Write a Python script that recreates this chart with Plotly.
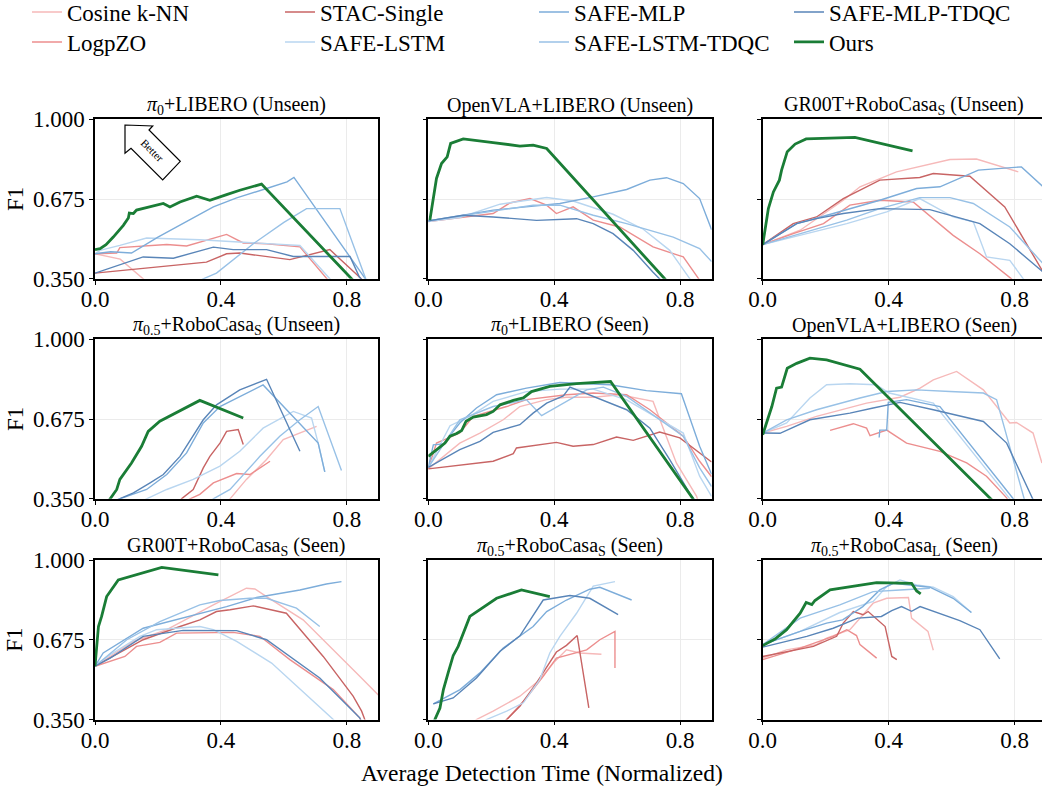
import plotly.graph_objects as go

# ---------------- data ----------------
METHODS = ["Cosine k-NN", "LogpZO", "STAC-Single", "SAFE-LSTM", "SAFE-MLP",
           "SAFE-LSTM-TDQC", "SAFE-MLP-TDQC", "Ours"]
COLORS = ["#f6b9b9", "#ec8e8e", "#c86464", "#b9d6f0", "#7dadda",
          "#98c1e6", "#5985b8", "#1a7d36"]
# legend slot of each method: (column, row) as in the reference legend
LEGEND_COL = [0, 0, 1, 1, 2, 2, 3, 3]
LEGEND_ROW = [0, 1, 0, 1, 0, 1, 0, 1]
PANEL_TITLES = [
    "<i>π</i><sub>0</sub>+LIBERO (Unseen)",
    "OpenVLA+LIBERO (Unseen)",
    "GR00T+RoboCasa<sub>S</sub> (Unseen)",
    "<i>π</i><sub>0.5</sub>+RoboCasa<sub>S</sub> (Unseen)",
    "<i>π</i><sub>0</sub>+LIBERO (Seen)",
    "OpenVLA+LIBERO (Seen)",
    "GR00T+RoboCasa<sub>S</sub> (Seen)",
    "<i>π</i><sub>0.5</sub>+RoboCasa<sub>S</sub> (Seen)",
    "<i>π</i><sub>0.5</sub>+RoboCasa<sub>L</sub> (Seen)",
]
X_TICKS = [0.0, 0.4, 0.8]
X_TICK_TEXT = ["0.0", "0.4", "0.8"]
Y_TICKS = [0.35, 0.675, 1.0]
Y_TICK_TEXT = ["0.350", "0.675", "1.000"]
X_LABEL = "Average Detection Time (Normalized)"
Y_LABEL = "F1"

# Panel 1: pi0 + LIBERO (Unseen)
p1_cosine = [(0, 0.452), (0.08, 0.43), (0.153, 0.35), (0.17, 0.33)]
p1_logpzo = [(0, 0.452), (0.069, 0.455), (0.079, 0.477), (0.228, 0.49), (0.291, 0.484), (0.418, 0.531),
             (0.471, 0.496), (0.545, 0.493), (0.651, 0.48), (0.735, 0.35), (0.75, 0.33)]
p1_stac = [(0, 0.373), (0.354, 0.418), (0.418, 0.452), (0.46, 0.455), (0.619, 0.428), (0.746, 0.469),
           (0.84, 0.357), (0.86, 0.33)]
p1_lstm = [(0, 0.452), (0.016, 0.466), (0.079, 0.486), (0.164, 0.516), (0.333, 0.509), (0.545, 0.493),
           (0.651, 0.486), (0.746, 0.35), (0.76, 0.33)]
p1_mlp = [(0, 0.452), (0.05, 0.46), (0.116, 0.455), (0.2, 0.52), (0.376, 0.643), (0.45, 0.68),
          (0.55, 0.72), (0.61, 0.745), (0.632, 0.763), (0.86, 0.35), (0.87, 0.33)]
p1_lstm_tdqc = [(0.33, 0.34), (0.344, 0.35), (0.386, 0.373), (0.503, 0.493), (0.6, 0.58), (0.672, 0.636),
                (0.778, 0.636), (0.86, 0.35), (0.87, 0.33)]
p1_mlp_tdqc = [(0, 0.373), (0.069, 0.404), (0.153, 0.439), (0.249, 0.434), (0.376, 0.479), (0.439, 0.469),
               (0.545, 0.469), (0.63, 0.441), (0.81, 0.441), (0.84, 0.357), (0.86, 0.33)]
p1_ours = [(0, 0.469), (0.016, 0.473), (0.035, 0.489), (0.058, 0.52), (0.09, 0.568), (0.106, 0.598),
           (0.109, 0.618), (0.122, 0.616), (0.132, 0.63), (0.175, 0.643), (0.206, 0.654), (0.217, 0.657),
           (0.238, 0.643), (0.27, 0.663), (0.323, 0.687), (0.365, 0.67), (0.418, 0.693), (0.46, 0.711),
           (0.529, 0.736), (0.815, 0.35), (0.83, 0.33)]

# Panel 2: OpenVLA + LIBERO (Unseen)
p2_logpzo = [(0, 0.583), (0.206, 0.616), (0.259, 0.659), (0.323, 0.677), (0.376, 0.65), (0.407, 0.616),
             (0.46, 0.643), (0.524, 0.589), (0.608, 0.561), (0.714, 0.48), (0.81, 0.439), (0.841, 0.384),
             (0.86, 0.35), (0.87, 0.33)]
p2_lstm = [(0, 0.583), (0.1, 0.6), (0.228, 0.654), (0.376, 0.681), (0.46, 0.667), (0.587, 0.613),
           (0.683, 0.552), (0.767, 0.466), (0.831, 0.35), (0.84, 0.33)]
p2_mlp = [(0, 0.586), (0.206, 0.63), (0.418, 0.657), (0.471, 0.67), (0.524, 0.684), (0.63, 0.714),
          (0.704, 0.752), (0.757, 0.762), (0.81, 0.738), (0.862, 0.677), (0.9, 0.55)]
p2_lstm_tdqc = [(0, 0.586), (0.206, 0.627), (0.333, 0.65), (0.418, 0.65), (0.524, 0.609), (0.63, 0.575),
                (0.778, 0.52), (0.862, 0.473), (0.9, 0.42)]
p2_mlp_tdqc = [(0, 0.586), (0.111, 0.609), (0.206, 0.602), (0.28, 0.595), (0.344, 0.588), (0.471, 0.595),
               (0.524, 0.575), (0.587, 0.534), (0.651, 0.466), (0.714, 0.377), (0.735, 0.35), (0.75, 0.33)]
p2_ours = [(0.005, 0.589), (0.014, 0.67), (0.026, 0.759), (0.042, 0.82), (0.06, 0.847), (0.071, 0.902),
           (0.111, 0.92), (0.206, 0.905), (0.291, 0.891), (0.333, 0.895), (0.376, 0.881), (0.751, 0.35),
           (0.765, 0.33)]

# Panel 3: GR00T + RoboCasa_S (Unseen)
p3_cosine = [(0, 0.489), (0.119, 0.548), (0.256, 0.67), (0.309, 0.725), (0.425, 0.786), (0.595, 0.836),
             (0.679, 0.838), (0.812, 0.786)]
p3_logpzo = [(0, 0.489), (0.097, 0.534), (0.193, 0.575), (0.277, 0.65), (0.372, 0.67), (0.478, 0.663),
             (0.605, 0.527), (0.69, 0.452), (0.79, 0.35), (0.8, 0.33)]
p3_stac = [(0, 0.489), (0.097, 0.575), (0.171, 0.602), (0.256, 0.677), (0.372, 0.752), (0.499, 0.763),
           (0.542, 0.779), (0.658, 0.768), (0.769, 0.643), (0.891, 0.377)]
p3_lstm = [(0, 0.489), (0.119, 0.527), (0.267, 0.575), (0.394, 0.623), (0.499, 0.677), (0.605, 0.602),
           (0.669, 0.582), (0.711, 0.439), (0.785, 0.425), (0.828, 0.35), (0.84, 0.33)]
p3_mlp = [(0, 0.489), (0.108, 0.575), (0.224, 0.616), (0.372, 0.67), (0.489, 0.718), (0.563, 0.725),
          (0.685, 0.793), (0.822, 0.806), (0.891, 0.725)]
p3_lstm_tdqc = [(0, 0.489), (0.119, 0.534), (0.267, 0.589), (0.372, 0.636), (0.499, 0.681), (0.595, 0.681),
                (0.669, 0.657), (0.785, 0.561), (0.891, 0.411)]
p3_mlp_tdqc = [(0, 0.489), (0.108, 0.575), (0.171, 0.595), (0.256, 0.616), (0.372, 0.636), (0.531, 0.632),
               (0.69, 0.575), (0.785, 0.493), (0.891, 0.377)]
p3_ours = [(0, 0.489), (0.018, 0.636), (0.034, 0.704), (0.053, 0.752), (0.06, 0.793), (0.078, 0.868),
           (0.103, 0.899), (0.138, 0.92), (0.293, 0.926), (0.476, 0.871)]

# Panel 4: pi0.5 + RoboCasa_S (Unseen)
p4_cosine = [(0.42, 0.33), (0.429, 0.35), (0.481, 0.429), (0.545, 0.51), (0.598, 0.591), (0.704, 0.645)]
p4_logpzo = [(0.29, 0.34), (0.302, 0.35), (0.333, 0.368), (0.376, 0.415), (0.45, 0.453), (0.492, 0.449),
             (0.556, 0.503)]
p4_stac = [(0.265, 0.33), (0.275, 0.35), (0.312, 0.388), (0.344, 0.476), (0.365, 0.523), (0.397, 0.577),
           (0.418, 0.625), (0.455, 0.632), (0.471, 0.571)]
p4_lstm = [(0.15, 0.34), (0.164, 0.35), (0.228, 0.388), (0.312, 0.429), (0.397, 0.483), (0.46, 0.544),
           (0.534, 0.638), (0.63, 0.706), (0.688, 0.679), (0.709, 0.577), (0.73, 0.46)]
p4_mlp = [(0.06, 0.34), (0.079, 0.35), (0.164, 0.388), (0.228, 0.449), (0.291, 0.537), (0.344, 0.659),
          (0.397, 0.726), (0.46, 0.767), (0.534, 0.814), (0.709, 0.577), (0.73, 0.46)]
p4_lstm_tdqc = [(0.36, 0.33), (0.376, 0.35), (0.429, 0.388), (0.524, 0.523), (0.587, 0.605), (0.651, 0.672),
                (0.709, 0.726), (0.783, 0.465)]
p4_mlp_tdqc = [(0.06, 0.34), (0.079, 0.35), (0.122, 0.374), (0.175, 0.415), (0.217, 0.449), (0.27, 0.523),
               (0.312, 0.605), (0.344, 0.672), (0.386, 0.733), (0.46, 0.794), (0.545, 0.837), (0.651, 0.544)]
p4_ours = [(0.04, 0.335), (0.048, 0.35), (0.069, 0.388), (0.079, 0.429), (0.095, 0.456), (0.116, 0.496),
           (0.148, 0.564), (0.169, 0.625), (0.206, 0.666), (0.333, 0.751), (0.471, 0.679)]

# Panel 5: pi0 + LIBERO (Seen)
p5_cosine = [(0, 0.472), (0.1, 0.577), (0.164, 0.618), (0.238, 0.672), (0.291, 0.726), (0.376, 0.754),
             (0.439, 0.764), (0.524, 0.764), (0.608, 0.774), (0.714, 0.747), (0.788, 0.496), (0.852, 0.361),
             (0.86, 0.33)]
p5_logpzo = [(0, 0.472), (0.026, 0.577), (0.1, 0.618), (0.143, 0.686), (0.249, 0.726), (0.312, 0.754),
             (0.439, 0.774), (0.524, 0.781), (0.63, 0.774), (0.704, 0.713), (0.81, 0.605), (0.862, 0.503),
             (0.9, 0.44)]
p5_stac = [(0, 0.472), (0.206, 0.503), (0.27, 0.534), (0.28, 0.557), (0.407, 0.58), (0.46, 0.564),
           (0.524, 0.571), (0.598, 0.602), (0.651, 0.588), (0.735, 0.622), (0.799, 0.598), (0.862, 0.537),
           (0.9, 0.5)]
p5_lstm = [(0, 0.478), (0.069, 0.648), (0.132, 0.686), (0.206, 0.747), (0.312, 0.787), (0.418, 0.797),
           (0.524, 0.797), (0.63, 0.753), (0.81, 0.618), (0.862, 0.442), (0.9, 0.36)]
p5_mlp = [(0, 0.478), (0.016, 0.57), (0.048, 0.574), (0.1, 0.659), (0.153, 0.72), (0.217, 0.774),
          (0.312, 0.801), (0.418, 0.824), (0.577, 0.815), (0.693, 0.791), (0.804, 0.778), (0.862, 0.564),
          (0.9, 0.45)]
p5_lstm_tdqc = [(0, 0.478), (0.1, 0.672), (0.206, 0.726), (0.312, 0.754), (0.36, 0.689), (0.418, 0.733),
                (0.503, 0.794), (0.556, 0.805), (0.63, 0.767), (0.81, 0.605), (0.862, 0.476), (0.9, 0.4)]
p5_mlp_tdqc = [(0, 0.478), (0.1, 0.55), (0.164, 0.584), (0.206, 0.621), (0.291, 0.652), (0.333, 0.699),
               (0.376, 0.74), (0.429, 0.769), (0.45, 0.805), (0.524, 0.767), (0.63, 0.713), (0.704, 0.638),
               (0.767, 0.51), (0.841, 0.35), (0.85, 0.33)]
p5_ours = [(0, 0.523), (0.026, 0.55), (0.053, 0.577), (0.069, 0.605), (0.09, 0.616), (0.106, 0.628),
           (0.12, 0.666), (0.143, 0.683), (0.185, 0.693), (0.206, 0.706), (0.228, 0.733), (0.27, 0.751),
           (0.302, 0.761), (0.328, 0.787), (0.386, 0.808), (0.471, 0.819), (0.579, 0.828), (0.841, 0.35),
           (0.85, 0.33)]

# Panel 6: OpenVLA + LIBERO (Seen)
p6_cosine = [(0, 0.618), (0.076, 0.645), (0.171, 0.686), (0.33, 0.74), (0.436, 0.764), (0.5, 0.801),
             (0.542, 0.835), (0.616, 0.869), (0.701, 0.794), (0.785, 0.659), (0.806, 0.661), (0.859, 0.618),
             (0.887, 0.496)]
p6_logpzo = [(0.214, 0.629), (0.288, 0.656), (0.33, 0.638), (0.341, 0.607), (0.394, 0.63), (0.457, 0.577),
             (0.563, 0.543), (0.648, 0.496), (0.711, 0.442), (0.775, 0.354), (0.785, 0.33)]
p6_lstm = [(0, 0.618), (0.076, 0.659), (0.15, 0.761), (0.203, 0.815), (0.277, 0.819), (0.36, 0.815),
           (0.402, 0.781), (0.542, 0.74), (0.785, 0.35), (0.795, 0.33)]
p6_mlp = [(0.37, 0.6), (0.372, 0.63), (0.394, 0.63), (0.399, 0.743), (0.457, 0.754), (0.563, 0.726),
          (0.796, 0.35), (0.81, 0.33)]
p6_lstm_tdqc = [(0, 0.618), (0.076, 0.672), (0.171, 0.713), (0.309, 0.761), (0.394, 0.787), (0.489, 0.794),
                (0.595, 0.787), (0.701, 0.781), (0.743, 0.754), (0.828, 0.354), (0.835, 0.33)]
p6_mlp_tdqc = [(0, 0.618), (0.055, 0.617), (0.15, 0.672), (0.277, 0.699), (0.351, 0.72), (0.436, 0.743),
               (0.542, 0.713), (0.701, 0.665), (0.775, 0.577), (0.859, 0.354), (0.865, 0.33)]
p6_ours = [(0, 0.611), (0.013, 0.659), (0.029, 0.726), (0.044, 0.801), (0.06, 0.805), (0.078, 0.882),
           (0.108, 0.902), (0.15, 0.923), (0.203, 0.916), (0.309, 0.878), (0.722, 0.35), (0.74, 0.33)]

# Panel 7: GR00T + RoboCasa_S (Seen)
p7_cosine = [(0, 0.567), (0.122, 0.668), (0.228, 0.716), (0.376, 0.817), (0.481, 0.885), (0.508, 0.882),
             (0.545, 0.851), (0.661, 0.756), (0.841, 0.526), (0.9, 0.45)]
p7_logpzo = [(0, 0.567), (0.048, 0.587), (0.095, 0.607), (0.132, 0.648), (0.206, 0.664), (0.259, 0.702),
             (0.439, 0.705), (0.524, 0.689), (0.619, 0.594), (0.757, 0.472), (0.841, 0.357), (0.85, 0.33)]
p7_stac = [(0, 0.567), (0.058, 0.607), (0.153, 0.675), (0.27, 0.729), (0.333, 0.756), (0.386, 0.79),
           (0.429, 0.797), (0.503, 0.813), (0.608, 0.783), (0.725, 0.607), (0.82, 0.445), (0.847, 0.384),
           (0.86, 0.34)]
p7_lstm = [(0, 0.567), (0.048, 0.614), (0.143, 0.689), (0.196, 0.716), (0.333, 0.729), (0.376, 0.716),
           (0.45, 0.668), (0.561, 0.58), (0.757, 0.35), (0.77, 0.33)]
p7_mlp = [(0, 0.567), (0.026, 0.621), (0.153, 0.722), (0.28, 0.763), (0.418, 0.81), (0.513, 0.847),
          (0.651, 0.878), (0.735, 0.902), (0.783, 0.912)]
p7_lstm_tdqc = [(0, 0.567), (0.101, 0.675), (0.206, 0.749), (0.333, 0.817), (0.397, 0.835), (0.492, 0.844),
                (0.545, 0.844), (0.64, 0.804), (0.714, 0.729)]
p7_mlp_tdqc = [(0, 0.567), (0.048, 0.6), (0.153, 0.689), (0.28, 0.713), (0.45, 0.712), (0.545, 0.675),
               (0.714, 0.519), (0.841, 0.357), (0.85, 0.33)]
p7_ours = [(0, 0.567), (0.011, 0.729), (0.021, 0.77), (0.037, 0.851), (0.074, 0.919), (0.212, 0.97),
           (0.392, 0.939)]

# Panel 8: pi0.5 + RoboCasa_S (Seen)
p8_cosine = [(0.14, 0.33), (0.153, 0.35), (0.206, 0.384), (0.291, 0.445), (0.354, 0.512), (0.397, 0.58),
             (0.439, 0.634), (0.481, 0.621), (0.55, 0.616)]
p8_logpzo = [(0.235, 0.33), (0.249, 0.35), (0.312, 0.438), (0.365, 0.526), (0.407, 0.6), (0.503, 0.634),
             (0.545, 0.675), (0.593, 0.709), (0.593, 0.56)]
p8_stac = [(0.23, 0.33), (0.249, 0.35), (0.291, 0.404), (0.344, 0.499), (0.407, 0.625), (0.439, 0.652),
           (0.473, 0.692), (0.51, 0.397)]
p8_lstm = [(0.17, 0.33), (0.185, 0.35), (0.249, 0.384), (0.302, 0.418), (0.354, 0.512), (0.386, 0.621),
           (0.418, 0.689), (0.471, 0.783), (0.524, 0.894), (0.593, 0.912)]
p8_mlp = [(0.016, 0.414), (0.101, 0.472), (0.164, 0.54), (0.238, 0.641), (0.333, 0.729), (0.376, 0.79),
          (0.439, 0.837), (0.513, 0.881), (0.545, 0.889), (0.646, 0.837)]
p8_mlp_tdqc = [(0.016, 0.414), (0.079, 0.438), (0.153, 0.519), (0.228, 0.628), (0.291, 0.691),
               (0.365, 0.837), (0.45, 0.855), (0.513, 0.844), (0.603, 0.777)]
p8_ours = [(0.018, 0.33), (0.021, 0.35), (0.037, 0.397), (0.048, 0.472), (0.063, 0.54), (0.079, 0.61),
           (0.095, 0.648), (0.132, 0.77), (0.217, 0.844), (0.296, 0.878), (0.386, 0.851)]

# Panel 9: pi0.5 + RoboCasa_L (Seen)
p9_cosine = [(0, 0.6), (0.076, 0.634), (0.171, 0.655), (0.203, 0.682), (0.277, 0.716), (0.351, 0.824),
             (0.394, 0.844), (0.463, 0.847), (0.473, 0.763), (0.525, 0.709), (0.542, 0.632)]
p9_logpzo = [(0, 0.594), (0.119, 0.641), (0.224, 0.689), (0.267, 0.716), (0.298, 0.692), (0.309, 0.655),
             (0.362, 0.6)]
p9_stac = [(0, 0.607), (0.161, 0.648), (0.235, 0.689), (0.256, 0.743), (0.288, 0.79), (0.319, 0.777),
           (0.335, 0.79), (0.389, 0.729), (0.41, 0.607), (0.426, 0.594)]
p9_lstm = [(0, 0.655), (0.119, 0.709), (0.245, 0.786), (0.351, 0.831), (0.394, 0.892), (0.436, 0.919),
           (0.489, 0.898), (0.542, 0.889), (0.605, 0.851), (0.663, 0.786)]
p9_mlp = [(0, 0.655), (0.119, 0.709), (0.203, 0.743), (0.254, 0.756), (0.318, 0.81), (0.372, 0.878),
          (0.415, 0.905), (0.531, 0.889), (0.605, 0.844), (0.663, 0.786)]
p9_lstm_tdqc = [(0, 0.655), (0.119, 0.763), (0.245, 0.817), (0.298, 0.844), (0.351, 0.871), (0.436, 0.878),
                (0.531, 0.885)]
p9_mlp_tdqc = [(0, 0.645), (0.14, 0.689), (0.224, 0.722), (0.302, 0.763), (0.377, 0.77), (0.41, 0.794),
               (0.441, 0.81), (0.473, 0.791), (0.5, 0.81), (0.626, 0.753), (0.69, 0.716), (0.753, 0.597)]
p9_ours = [(0, 0.651), (0.039, 0.678), (0.076, 0.716), (0.097, 0.75), (0.119, 0.783), (0.138, 0.827),
           (0.156, 0.818), (0.166, 0.835), (0.214, 0.878), (0.362, 0.908), (0.473, 0.905), (0.489, 0.874),
           (0.502, 0.862)]

PANELS = [
    [p1_cosine, p1_logpzo, p1_stac, p1_lstm, p1_mlp, p1_lstm_tdqc, p1_mlp_tdqc, p1_ours],
    [None, p2_logpzo, None, p2_lstm, p2_mlp, p2_lstm_tdqc, p2_mlp_tdqc, p2_ours],
    [p3_cosine, p3_logpzo, p3_stac, p3_lstm, p3_mlp, p3_lstm_tdqc, p3_mlp_tdqc, p3_ours],
    [p4_cosine, p4_logpzo, p4_stac, p4_lstm, p4_mlp, p4_lstm_tdqc, p4_mlp_tdqc, p4_ours],
    [p5_cosine, p5_logpzo, p5_stac, p5_lstm, p5_mlp, p5_lstm_tdqc, p5_mlp_tdqc, p5_ours],
    [p6_cosine, p6_logpzo, None, p6_lstm, p6_mlp, p6_lstm_tdqc, p6_mlp_tdqc, p6_ours],
    [p7_cosine, p7_logpzo, p7_stac, p7_lstm, p7_mlp, p7_lstm_tdqc, p7_mlp_tdqc, p7_ours],
    [p8_cosine, p8_logpzo, p8_stac, p8_lstm, p8_mlp, None, p8_mlp_tdqc, p8_ours],
    [p9_cosine, p9_logpzo, p9_stac, p9_lstm, p9_mlp, p9_lstm_tdqc, p9_mlp_tdqc, p9_ours],
]

# ---------------- layout geometry (pixels) ----------------
W, H = 1042, 788
COL_LEFT = [95.0, 428.3, 762.7]
PANEL_W = 283.3
ROW_TOP = [119.3, 339.3, 560.0]
PANEL_H = 159.5
X_MAX = 0.9
FONT = "Liberation Serif"
LEGEND_TEXT_X = [67, 320, 574, 829]
LEGEND_ROW_Y = [12, 42]


def px(x):
    return x / W


def py(y):
    return 1 - y / H


def legend_key(m):
    return "legend" if m == 0 else f"legend{m + 1}"


fig = go.Figure()
layout = dict(
    width=W, height=H, margin=dict(l=0, r=0, t=0, b=0, autoexpand=False),
    paper_bgcolor="white", plot_bgcolor="white",
    font=dict(family=FONT, size=23, color="black"),
    showlegend=True,
)

annotations = []
for k in range(9):
    r, c = divmod(k, 3)
    n = k + 1
    left = COL_LEFT[c]
    right = min(left + PANEL_W, W)
    xr = X_MAX * (right - left) / PANEL_W
    top = ROW_TOP[r]
    bot = top + PANEL_H
    xa = dict(domain=[px(left), px(right)], range=[0, xr], anchor=f"y{n}",
              tickvals=X_TICKS, ticktext=X_TICK_TEXT, showgrid=True,
              gridcolor="#ebebeb", gridwidth=1, zeroline=False,
              showline=True, linecolor="black", linewidth=1.5, mirror=True,
              ticks="outside", ticklen=4, tickwidth=1.2, tickcolor="black",
              ticklabelstandoff=-5, tickfont=dict(size=23, family=FONT))
    ya = dict(domain=[py(bot), py(top)], range=[0.35, 1.0], anchor=f"x{n}",
              tickvals=Y_TICKS, ticktext=Y_TICK_TEXT, showgrid=True,
              gridcolor="#ebebeb", gridwidth=1, zeroline=False,
              showline=True, linecolor="black", linewidth=1.5, mirror=(c < 2),
              ticks="outside", ticklen=4, tickwidth=1.2, tickcolor="black",
              showticklabels=(c == 0), tickfont=dict(size=23, family=FONT))
    layout["xaxis" if n == 1 else f"xaxis{n}"] = xa
    layout["yaxis" if n == 1 else f"yaxis{n}"] = ya

    for m, pts in enumerate(PANELS[k]):
        if pts is None:
            continue
        xs = [p[0] for p in pts]
        ys = [p[1] for p in pts]
        is_ours = METHODS[m] == "Ours"
        fig.add_trace(go.Scatter(
            x=xs, y=ys, mode="lines", name=METHODS[m],
            line=dict(color=COLORS[m], width=2.8 if is_ours else 1.4),
            xaxis="x" if n == 1 else f"x{n}", yaxis="y" if n == 1 else f"y{n}",
            showlegend=(k == 0), legend=legend_key(m), hoverinfo="skip",
        ))

    annotations.append(dict(
        text=PANEL_TITLES[k], x=px(left + PANEL_W / 2), y=py(top - 14),
        xref="paper", yref="paper", showarrow=False, xanchor="center",
        yanchor="middle", font=dict(size=20, family=FONT)))

for r in range(3):
    annotations.append(dict(
        text=Y_LABEL, x=px(15), y=py(ROW_TOP[r] + PANEL_H / 2), xref="paper",
        yref="paper", showarrow=False, textangle=-90, xanchor="center",
        yanchor="middle", font=dict(size=23, family=FONT)))

annotations.append(dict(
    text=X_LABEL, x=px(542), y=py(773), xref="paper", yref="paper",
    showarrow=False, xanchor="center", yanchor="middle",
    font=dict(size=23.5, family=FONT)))

# "Better" arrow decoration in the first panel
arrow_px = [(125, 125), (152.7, 126), (149, 130), (180.3, 161.3), (162.7, 180),
            (131, 148.3), (125, 153.3)]
path = "M " + " L ".join(f"{px(a):.5f},{py(b):.5f}" for a, b in arrow_px) + " Z"
shapes = [dict(type="path", path=path, xref="paper", yref="paper",
               fillcolor="white", line=dict(color="black", width=1.2))]
annotations.append(dict(
    text="Better", x=px(152), y=py(150), xref="paper", yref="paper",
    showarrow=False, textangle=45, xanchor="center", yanchor="middle",
    font=dict(size=11, family=FONT)))

layout["annotations"] = annotations
layout["shapes"] = shapes
for m in range(len(METHODS)):
    tx = LEGEND_TEXT_X[LEGEND_COL[m]]
    ty = LEGEND_ROW_Y[LEGEND_ROW[m]]
    layout[legend_key(m)] = dict(orientation="v", x=px(tx - 40), y=py(ty),
                                 xanchor="left", yanchor="middle",
                                 bgcolor="rgba(0,0,0,0)",
                                 font=dict(size=23, family=FONT), itemwidth=30)

fig.update_layout(**layout)
fig.write_html("out.html")
